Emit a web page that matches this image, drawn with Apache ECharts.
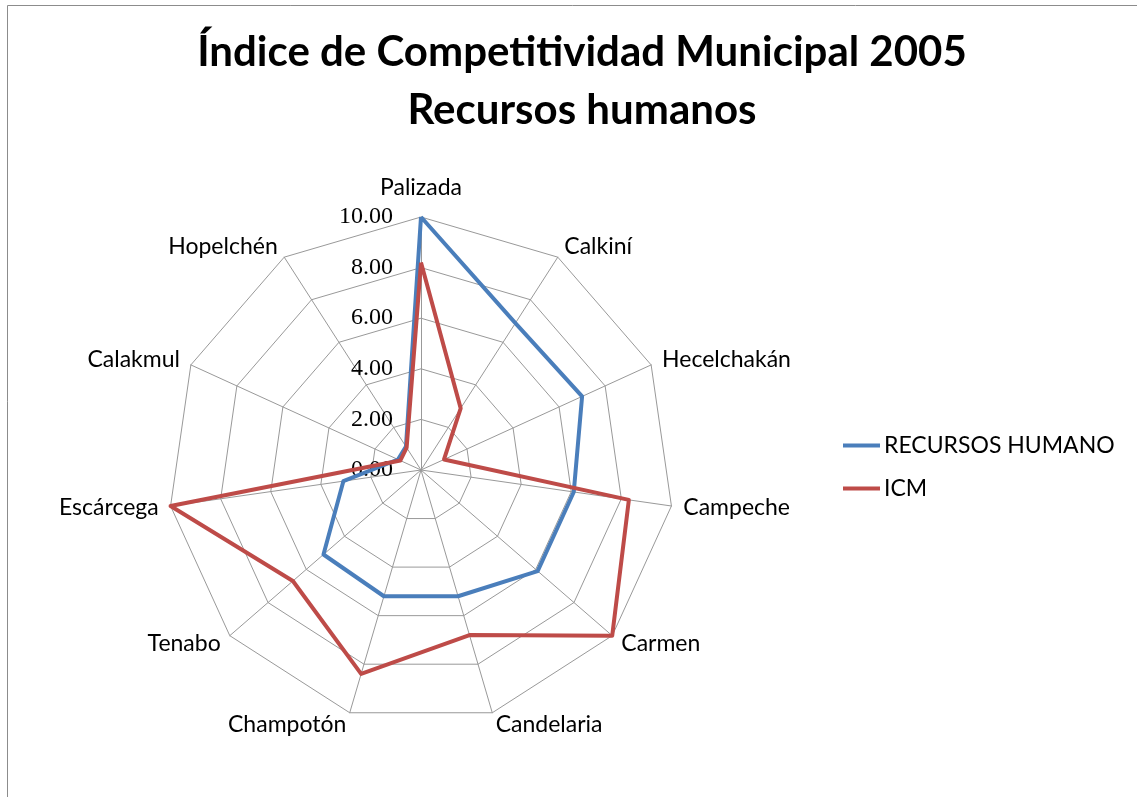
<!DOCTYPE html>
<html>
<head>
<meta charset="utf-8">
<script src="https://cdn.jsdelivr.net/npm/echarts@6/dist/echarts.min.js"></script>
<style>
html,body{margin:0;padding:0;background:#fff;}
#chart{width:1137px;height:797px;}
</style>
</head>
<body>
<div id="chart"></div>
<script>
const categories = ['Palizada','Calkiní','Hecelchakán','Campeche','Carmen','Candelaria','Champotón','Tenabo','Escárcega','Calakmul','Hopelchén'];
const seriesNames = ['RECURSOS HUMANO','ICM'];
const recursosHumanos = [10.0, 6.9, 7.0, 6.1, 6.1, 5.2, 5.2, 5.1, 3.1, 1.0, 1.1];
const icm = [8.2, 2.9, 1.0, 8.3, 10.0, 6.8, 8.4, 6.7, 10.0, 0.9, 1.05];
const tickMax = 10;
const tickStep = 2;
const titleLines = ['Índice de Competitividad Municipal 2005','Recursos humanos'];

// ECharts radar runs counter-clockwise; reorder so categories run clockwise from the top
const order = [0].concat(categories.map((_, i) => i).slice(1).reverse());
const reorder = arr => order.map(i => arr[i]);

const chart = echarts.init(document.getElementById('chart'));
const center = [421, 470];
const radius = 253;
chart.setOption({
  backgroundColor: '#fff',
  animation: false,
  graphic: [{
    type: 'rect', silent: true, z: -10,
    shape: {x: 7.5, y: 5.5, width: 1200, height: 900},
    style: {fill: 'none', stroke: '#8c8c8c', lineWidth: 1}
  }],
  title: {
    text: titleLines.join('\n'),
    left: 577, top: 18, textAlign: 'center',
    textStyle: {fontFamily: 'Lato', fontWeight: 'bold', fontSize: 42, lineHeight: 58, color: '#000'}
  },
  legend: {
    orient: 'vertical', left: 843, top: 434, padding: 0,
    itemWidth: 37, itemHeight: 4, itemGap: 20,
    icon: 'rect',
    textStyle: {fontFamily: 'Lato', fontSize: 23, color: '#000', padding: [0,0,0,-1]},
    data: seriesNames
  },
  radar: {
    center: center, radius: radius, shape: 'polygon', startAngle: 90,
    splitNumber: tickMax / tickStep,
    indicator: reorder(categories).map(n => ({name: n, min: 0, max: tickMax})),
    axisName: {
      color: '#000', fontFamily: 'Lato', fontSize: 23,
      formatter: (name) => name === categories[0] ? '{t|' + name + '}' : name,
      rich: {t: {fontFamily: 'Lato', fontSize: 23, color: '#000', padding: [0, 0, 6, 0]}}
    },
    nameGap: 12,
    axisLine: {lineStyle: {color: '#999', width: 1}},
    splitLine: {lineStyle: {color: '#999', width: 1}},
    splitArea: {show: false},
    axisTick: {show: false},
    axisLabel: {show: false}
  },
  polar: {center: center, radius: radius},
  angleAxis: {show: false, startAngle: 90, min: 0, max: 360},
  radiusAxis: {
    min: 0, max: tickMax, interval: tickStep,
    axisLine: {show: false}, axisTick: {show: false}, splitLine: {show: false},
    axisLabel: {show: true, inside: true, formatter: v => v.toFixed(2), fontFamily: 'Liberation Serif', fontSize: 24, color: '#000', margin: 28}
  },
  series: [{
    type: 'radar',
    symbol: 'none',
    data: [
      {name: seriesNames[0], value: reorder(recursosHumanos), lineStyle: {color: '#4a7ebb', width: 4}, itemStyle: {color: '#4a7ebb'}},
      {name: seriesNames[1], value: reorder(icm), lineStyle: {color: '#be4b48', width: 4}, itemStyle: {color: '#be4b48'}}
    ]
  }]
});
</script>
</body>
</html>
